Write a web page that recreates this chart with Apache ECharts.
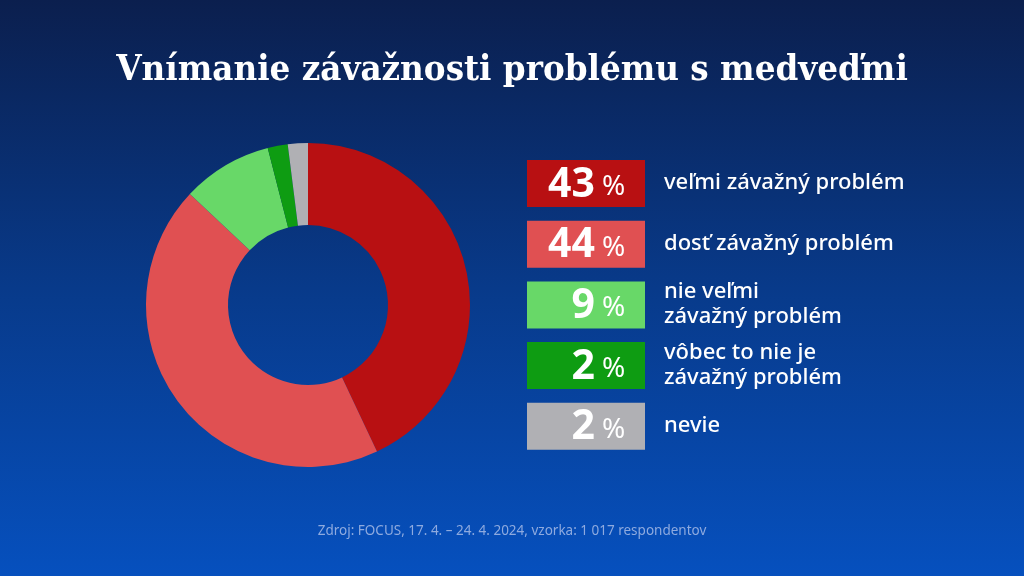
<!DOCTYPE html>
<html>
  <head>
    <meta charset="utf-8">
    <title>Vnímanie závažnosti problému s medveďmi</title>
    <script type="text/javascript" src="https://cdn.jsdelivr.net/npm/echarts@6/dist/echarts.min.js"></script>
    <style>
      html, body { margin: 0; padding: 0; }
      #chart {
        width: 1024px;
        height: 576px;
        background: linear-gradient(to bottom, #0b1f4e 0%, #083a8a 50%, #0650be 100%);
      }
    </style>
  </head>
  <body>
    <div id="chart"></div>
    <script type="text/javascript">
      // answers, top of the ring going clockwise
      var categories = ['veľmi závažný problém', 'dosť závažný problém', 'nie veľmi\nzávažný problém', 'vôbec to nie je\nzávažný problém', 'nevie'];
      var shares = [43, 44, 9, 2, 2];
      var colors = ['#b81012', '#e05052', '#68d868', '#0e9c12', '#b0b0b4'];

      var chart = echarts.init(document.getElementById('chart'));

      var graphics = [];

      // legend boxes with the number inside
      categories.forEach(function (name, i) {
        var top = 160 + i * 60.7;
        graphics.push({
          type: 'rect',
          shape: { x: 527, y: top, width: 118, height: 47 },
          style: { fill: colors[i] }
        });
        graphics.push({
          type: 'text',
          x: 595, y: top + 25,
          style: {
            text: String(shares[i]),
            fill: '#fff',
            font: 'bold 41px "Noto Sans"',
            align: 'right', verticalAlign: 'middle'
          }
        });
        graphics.push({
          type: 'text',
          x: 602, y: top + 27,
          style: {
            text: '%',
            fill: '#fff',
            font: '28px "Noto Sans"',
            align: 'left', verticalAlign: 'middle'
          }
        });
        graphics.push({
          type: 'text',
          x: 664, y: top + 23,
          style: {
            text: name,
            fill: '#fff',
            font: '500 22px "Noto Sans"',
            lineHeight: 25,
            align: 'left', verticalAlign: 'middle'
          }
        });
      });

      var option = {
        backgroundColor: 'transparent',
        title: [{
          text: 'Vnímanie závažnosti problému s medveďmi',
          left: 'center',
          top: 48,
          textStyle: {
            color: '#fff',
            fontFamily: 'DejaVu Serif Condensed',
            fontWeight: 'bold',
            fontSize: 36.3
          }
        }, {
          text: 'Zdroj: FOCUS, 17. 4. – 24. 4. 2024, vzorka: 1 017 respondentov',
          left: 'center',
          top: 519,
          textStyle: {
            color: '#8eaadf',
            fontFamily: 'Noto Sans',
            fontWeight: 'normal',
            fontSize: 13.5
          }
        }],
        series: [{
          type: 'pie',
          center: [308, 305],
          radius: [80, 162],
          startAngle: 90,
          clockwise: true,
          silent: true,
          label: { show: false },
          labelLine: { show: false },
          itemStyle: { borderWidth: 0 },
          data: categories.map(function (name, i) {
            return { name: name, value: shares[i], itemStyle: { color: colors[i] } };
          })
        }],
        graphic: graphics
      };
      chart.setOption(option);
    </script>
  </body>
</html>
